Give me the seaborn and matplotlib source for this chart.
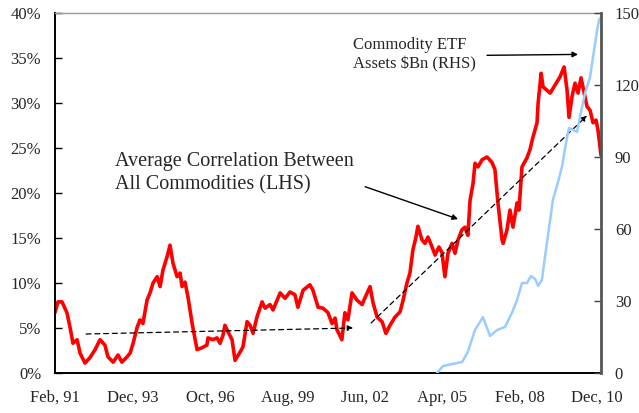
import matplotlib
matplotlib.use("Agg")
import matplotlib.pyplot as plt
import seaborn as sns
import pandas as pd

sns.set_style("white")
plt.rcParams["font.family"] = ["Liberation Serif", "DejaVu Serif"]

# average correlation between commodities, % (LHS)
corr_years = [1991.08, 1991.19, 1991.34, 1991.52, 1991.63, 1991.74, 1991.89, 1992.00, 1992.18, 1992.36,
              1992.55, 1992.73, 1992.91, 1993.02, 1993.21, 1993.39, 1993.53, 1993.72, 1993.83, 1993.94,
              1994.08, 1994.19, 1994.30, 1994.45, 1994.56, 1994.67, 1994.82, 1994.93, 1995.03, 1995.18,
              1995.29, 1995.40, 1995.55, 1995.66, 1995.73, 1995.84, 1995.95, 1996.10, 1996.28, 1996.46,
              1996.64, 1996.68, 1996.86, 1997.01, 1997.12, 1997.23, 1997.30, 1997.41, 1997.56, 1997.67,
              1997.85, 1997.96, 1998.11, 1998.22, 1998.33, 1998.47, 1998.66, 1998.77, 1998.95, 1999.06,
              1999.32, 1999.50, 1999.68, 1999.86, 1999.97, 2000.16, 2000.41, 2000.52, 2000.71, 2000.89,
              2001.07, 2001.22, 2001.33, 2001.40, 2001.58, 2001.69, 2001.80, 2001.95, 2002.13, 2002.32,
              2002.43, 2002.61, 2002.72, 2002.87, 2003.05, 2003.19, 2003.34, 2003.52, 2003.71, 2003.82,
              2003.96, 2004.07, 2004.18, 2004.29, 2004.36, 2004.51, 2004.62, 2004.73, 2004.88, 2004.99,
              2005.13, 2005.24, 2005.35, 2005.46, 2005.61, 2005.72, 2005.83, 2005.97, 2006.08, 2006.19,
              2006.27, 2006.38, 2006.45, 2006.56, 2006.71, 2006.89, 2007.07, 2007.18, 2007.29, 2007.44,
              2007.48, 2007.62, 2007.73, 2007.84, 2007.99, 2008.06, 2008.17, 2008.35, 2008.46, 2008.57,
              2008.72, 2008.76, 2008.87, 2008.94, 2009.09, 2009.20, 2009.38, 2009.56, 2009.71, 2009.82,
              2009.89, 2010.00, 2010.11, 2010.22, 2010.33, 2010.40, 2010.55, 2010.66, 2010.77, 2010.88,
              2010.95, 2011.06]
corr_values = [6.7, 7.9, 7.9, 6.7, 5.1, 3.3, 3.7, 2.2, 1.1, 1.7,
               2.6, 3.7, 3.1, 1.8, 1.2, 2.0, 1.2, 1.8, 2.2, 3.3,
               5.0, 5.9, 5.5, 8.1, 8.9, 10.0, 10.7, 9.6, 11.4, 12.9,
               14.2, 12.2, 10.7, 11.1, 9.6, 10.1, 8.4, 5.5, 2.6, 2.8,
               3.1, 3.9, 3.7, 3.9, 3.3, 4.2, 5.3, 4.6, 3.7, 1.4,
               2.3, 2.9, 5.7, 5.3, 4.4, 6.2, 7.9, 7.2, 7.6, 7.0,
               8.9, 8.3, 9.0, 8.7, 7.3, 9.2, 9.8, 9.2, 7.3, 7.2,
               6.7, 5.5, 6.1, 4.8, 3.7, 6.7, 5.9, 8.9, 8.1, 7.6,
               8.4, 9.6, 7.8, 6.2, 5.7, 4.4, 5.3, 6.2, 6.8, 8.1,
               10.0, 11.1, 13.7, 15.1, 16.3, 14.8, 14.4, 15.1, 14.0, 13.1,
               14.0, 13.4, 10.7, 13.3, 14.4, 13.3, 14.8, 15.9, 16.2, 15.3,
               19.2, 21.1, 23.3, 22.9, 23.7, 24.0, 23.4, 22.6, 18.9, 14.8,
               14.4, 15.9, 18.1, 16.2, 18.9, 18.1, 22.9, 23.9, 24.8, 26.2,
               27.8, 30.0, 33.3, 31.8, 31.4, 31.1, 32.0, 32.9, 34.0, 31.4,
               28.4, 30.7, 32.2, 31.1, 32.8, 31.8, 29.6, 29.2, 27.8, 28.1,
               27.0, 24.2]

# commodity ETF assets, $bn (RHS)
etf_years = [2005.06, 2005.28, 2005.65, 2005.98, 2006.19, 2006.45, 2006.74, 2007.00, 2007.26, 2007.55,
             2007.80, 2007.99, 2008.17, 2008.35, 2008.50, 2008.65, 2008.76, 2008.90, 2009.01, 2009.20,
             2009.30, 2009.49, 2009.63, 2009.78, 2009.89, 2010.04, 2010.18, 2010.29, 2010.48, 2010.66,
             2010.77, 2010.92, 2010.99, 2011.06]
etf_values = [0.0, 2.9, 3.8, 4.6, 8.8, 17.9, 23.3, 15.4, 17.9, 19.2,
              25.0, 30.4, 37.5, 37.5, 40.4, 39.2, 36.3, 38.8, 48.3, 63.8,
              72.1, 79.6, 85.8, 95.8, 102.1, 101.3, 100.4, 106.7, 116.7, 123.3,
              131.7, 142.9, 147.1, 148.3]

x_ticks = [1991.083, 1993.917, 1996.75, 1999.583, 2002.417, 2005.25, 2008.083, 2010.917]
x_labels = ["Feb, 91", "Dec, 93", "Oct, 96", "Aug, 99", "Jun, 02", "Apr, 05", "Feb, 08", "Dec, 10"]
lhs_ticks = [0, 5, 10, 15, 20, 25, 30, 35, 40]
rhs_ticks = [0, 30, 60, 90, 120, 150]

corr = pd.DataFrame({"year": corr_years, "corr": corr_values})
etf = pd.DataFrame({"year": etf_years, "assets": etf_values})

fig = plt.figure(figsize=(6.39, 4.13), dpi=100)
ax = fig.add_axes([0.0861, 0.0969, 0.8544, 0.8716])
ax2 = ax.twinx()

sns.lineplot(data=corr, x="year", y="corr", ax=ax, color="#ff0000", lw=2.6, estimator=None)
sns.lineplot(data=etf, x="year", y="assets", ax=ax2, color="#99ccff", lw=1.8, estimator=None)

ax.set_xlim(1991.083, 2011.06)
ax.set_ylim(0, 40)
ax2.set_ylim(0, 150)
ax.set_xticks(x_ticks)
ax.set_xticklabels(x_labels)
ax.set_yticks(lhs_ticks)
ax.set_yticklabels([f"{t}%" for t in lhs_ticks])
ax2.set_yticks(rhs_ticks)
ax.set_xlabel("")
ax.set_ylabel("")
ax2.set_ylabel("")

ax.tick_params(axis="both", direction="in", length=5, width=1, labelsize=12, color="black")
ax.tick_params(axis="x", pad=12)
ax.tick_params(axis="y", pad=10)
ax2.tick_params(axis="y", direction="in", length=5, width=1, labelsize=12, pad=10, color="#444444")

for s in ["left", "bottom"]:
    ax.spines[s].set_color("black")
    ax.spines[s].set_linewidth(1.4)
ax.spines["top"].set_color("#999999")
ax.spines["top"].set_linewidth(1.0)
ax.spines["right"].set_visible(False)
ax2.spines["top"].set_visible(False)
ax2.spines["left"].set_visible(False)
ax2.spines["bottom"].set_visible(False)
ax2.spines["right"].set_color("#555555")
ax2.spines["right"].set_linewidth(2.0)

# annotations
ax.text(1993.28, 22.2, "Average Correlation Between\nAll Commodities (LHS)", fontsize=14.5,
        va="center", ha="left", linespacing=1.3)
ax.text(2001.99, 35.4, "Commodity ETF\nAssets $Bn (RHS)", fontsize=12,
        va="center", ha="left", linespacing=1.3)

solid = dict(arrowstyle="-|>", color="black", lw=1.0, mutation_scale=8, shrinkA=0, shrinkB=0)
dashed = dict(arrowstyle="-|>", color="black", lw=0.9, linestyle=(0, (4, 3)), mutation_scale=8,
              shrinkA=0, shrinkB=0)
ax.annotate("", xy=(2005.83, 17.1), xytext=(2002.43, 20.7), arrowprops=solid)
ax.annotate("", xy=(2010.22, 35.4), xytext=(2006.89, 35.3), arrowprops=solid)
ax.annotate("", xy=(2001.99, 5.0), xytext=(1992.22, 4.33), arrowprops=dashed)
ax.annotate("", xy=(2010.55, 28.6), xytext=(2002.65, 5.56), arrowprops=dashed)

fig.savefig("out.png", dpi=100)
